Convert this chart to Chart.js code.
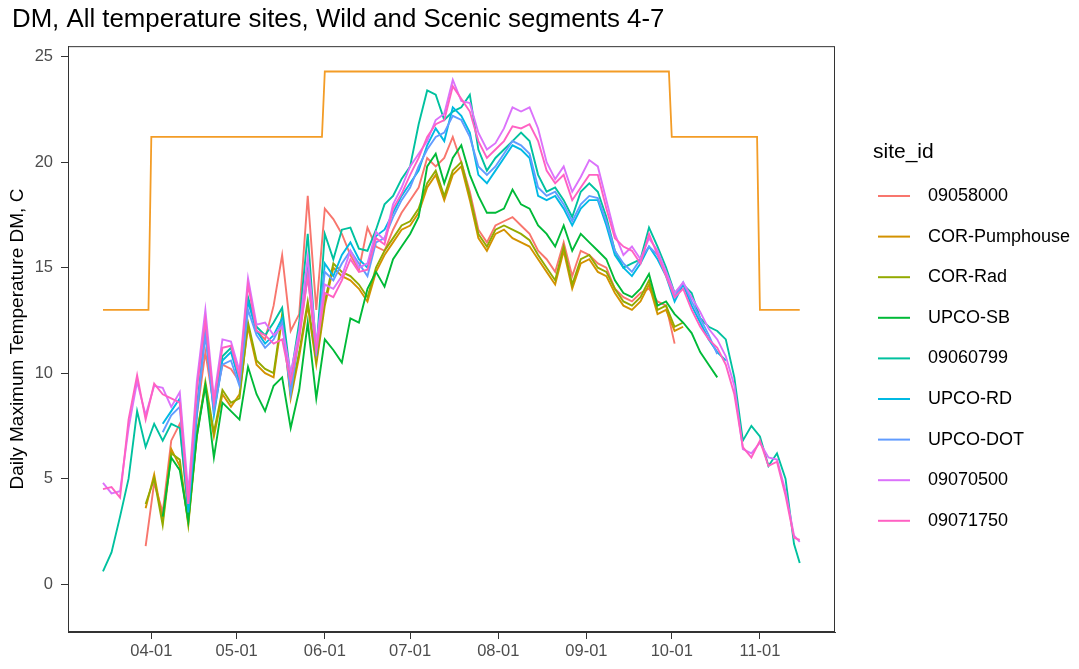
<!DOCTYPE html>
<html>
<head>
<meta charset="utf-8">
<script src="https://cdn.jsdelivr.net/npm/chart.js@4.4.1/dist/chart.umd.min.js"></script>
<style>
  html, body { margin: 0; padding: 0; background: #ffffff; }
  #wrap { width: 1079px; height: 669px; }
</style>
</head>
<body>
<div id="wrap"><canvas id="chart" width="1079" height="669"></canvas></div>
<script>
// days counted from 04-01 (day 0)
const days = [-17, -14, -11, -8, -5, -2, 1, 4, 7, 10,
  13, 16, 19, 22, 25, 28, 31, 34, 37, 40,
  43, 46, 49, 52, 55, 58, 61, 64, 67, 70,
  73, 76, 79, 82, 85, 88, 91, 94, 97, 100,
  103, 106, 109, 112, 115, 118, 121, 124, 127, 130,
  133, 136, 139, 142, 145, 148, 151, 154, 157, 160,
  163, 166, 169, 172, 175, 178, 181, 184, 187, 190,
  193, 196, 199, 202, 205, 208, 211, 214, 217, 220,
  223, 226, 228];

const s09058000 = [null, null, null, null, null, 1.8, 4.8, 3.4, 6.8, 7.6,
  3.2, 8.0, 11.0, 8.4, 10.4, 10.2, 9.6, 13.5, 12.0, 11.6,
  13.2, 15.6, 12.0, 12.8, 18.4, 13.0, 17.8, 17.3, 16.6, 15.6,
  14.9, 16.9, 16.0, 15.8, 16.8, 17.6, 18.2, 18.8, 20.2, 19.8,
  20.2, 21.2, 20.0, 18.6, 16.8, 16.2, 17.0, 17.2, 17.4, 17.0,
  16.6, 15.8, 15.4, 14.8, 16.2, 14.6, 15.8, 15.6, 15.2, 15.0,
  14.0, 13.6, 13.4, 13.8, 14.0, 13.4, 13.2, 11.4, null, null,
  null, null, null, null, null, null, null, null, null, null,
  null, null, null];

const sCorPumphouse = [null, null, null, null, null, 3.6, 5.2, 3.0, 6.4, 5.6,
  2.9, 7.2, 9.4, 7.0, 9.0, 8.4, 9.0, 12.2, 10.4, 10.0,
  9.8, 12.6, 8.8, 10.8, 13.2, 10.4, 13.2, 15.0, 14.6, 14.4,
  14.0, 13.4, 14.8, 15.6, 16.2, 16.8, 17.0, 17.6, 18.8, 19.4,
  18.2, 19.4, 19.8, 18.2, 16.4, 15.8, 16.6, 16.8, 16.4, 16.2,
  16.0, 15.4, 14.8, 14.2, 15.8, 14.0, 15.2, 15.4, 14.8, 14.6,
  13.8, 13.2, 13.0, 13.4, 14.2, 12.8, 13.0, 12.0, 12.2, null,
  null, null, null, null, null, null, null, null, null, null,
  null, null, null];

const sCorRad = [null, null, null, null, null, 3.8, 5.0, 2.8, 6.2, 5.9,
  2.8, 7.0, 9.6, 7.2, 9.2, 8.6, 8.8, 12.4, 10.6, 10.2,
  10.0, 12.8, 9.0, 11.0, 13.4, 10.6, 13.4, 15.2, 14.8, 14.6,
  14.2, 13.6, 15.0, 15.8, 16.4, 17.0, 17.2, 17.8, 19.0, 19.6,
  18.4, 19.6, 20.0, 18.4, 16.6, 16.0, 16.8, 17.0, 16.8, 16.6,
  16.3, 15.6, 15.0, 14.4, 16.0, 14.2, 15.4, 15.6, 15.0, 14.8,
  14.0, 13.4, 13.2, 13.6, 14.4, 13.0, 13.2, 12.2, 12.4, null,
  null, null, null, null, null, null, null, null, null, null,
  null, null, null];

const sUpcoSB = [null, null, null, null, null, null, null, 3.2, 6.0, 5.4,
  3.0, 7.0, 9.4, 6.0, 8.6, 8.2, 7.8, 10.3, 9.0, 8.2,
  9.4, 9.8, 7.4, 9.2, 12.4, 8.8, 11.6, 11.1, 10.5, 12.6,
  12.4, 14.0, 14.8, 14.1, 15.4, 16.0, 16.6, 17.4, 19.8, 20.4,
  19.0, 20.2, 20.8, 19.4, 18.4, 17.6, 17.6, 17.8, 18.7, 18.0,
  17.8, 17.0, 16.6, 16.0, 17.0, 15.8, 16.6, 16.2, 15.8, 15.4,
  14.4, 13.8, 13.6, 14.0, 14.7, 13.2, 13.4, 12.8, 12.4, 11.9,
  11.0, 10.4, 9.8, null, null, null, null, null, null, null,
  null, null, null];

const s09060799 = [0.6, 1.5, 3.2, 5.0, 8.2, 6.5, 7.6, 6.8, 7.6, 7.4,
  3.5, 8.4, 12.0, 8.4, 10.8, 11.2, 9.6, 13.6, 12.2, 11.8,
  12.4, 13.1, 9.8, 12.4, 16.6, 11.0, 16.6, 15.4, 16.8, 16.9,
  15.9, 15.8, 16.8, 18.0, 18.4, 19.2, 19.8, 21.8, 23.4, 23.2,
  22.0, 22.4, 22.6, 23.2, 20.6, 19.6, 20.2, 20.6, 21.0, 21.4,
  21.0, 19.4, 18.6, 18.8, 18.2, 17.4, 18.6, 19.0, 18.6, 17.4,
  15.8, 15.0, 15.2, 15.4, 16.9, 16.0, 15.0, 13.8, 14.2, 13.8,
  12.6, 12.2, 12.0, 11.6, 9.8, 6.8, 7.5, 7.0, 5.6, 6.2,
  5.0, 1.9, 1.0];

const sUpcoRD = [null, null, null, null, null, null, null, 7.6, 8.2, 8.8,
  3.4, 8.0, 12.2, 8.0, 10.6, 11.0, 9.6, 13.4, 12.0, 11.4,
  11.8, 12.6, 9.2, 12.0, 15.0, 10.8, 15.2, 14.6, 15.6, 16.2,
  15.4, 15.0, 16.5, 16.8, 17.6, 18.4, 19.0, 19.6, 20.8, 21.6,
  21.0, 22.6, 22.2, 21.4, 19.4, 19.0, 19.6, 20.2, 20.8, 20.6,
  20.2, 18.4, 18.2, 18.4, 17.8, 17.0, 17.8, 18.2, 18.2, 17.0,
  15.6, 15.0, 14.6, 15.2, 16.0, 15.4, 14.6, 13.4, 14.2, 13.2,
  12.4, 11.6, 11.0, 10.6, null, null, null, null, null, null,
  null, null, null];

const sUpcoDOT = [null, null, null, null, null, null, null, 7.2, 8.0, 8.4,
  3.8, 8.2, 11.8, 8.2, 10.4, 10.6, 9.4, 13.0, 11.8, 11.2,
  11.6, 12.4, 9.0, 11.8, 14.6, 11.2, 14.8, 14.4, 15.2, 15.8,
  15.2, 14.6, 16.2, 16.4, 17.4, 18.2, 18.8, 19.8, 20.6, 21.2,
  21.4, 22.2, 22.0, 21.2, 19.8, 19.4, 19.8, 20.4, 21.0, 20.8,
  20.4, 18.8, 18.4, 18.6, 18.0, 17.2, 18.0, 18.4, 18.3, 17.2,
  15.8, 15.2, 14.8, 15.4, 16.0, 15.6, 14.8, 13.6, 14.3, 13.4,
  12.6, 11.8, 10.9, null, null, null, null, null, null, null,
  null, null, null];

const s09070500 = [4.8, 4.3, 4.4, 7.4, 9.6, 8.0, 9.4, 9.3, 8.4, 9.1,
  4.3, 9.6, 13.0, 8.8, 11.6, 11.5, 10.1, 14.5, 12.3, 12.4,
  11.8, 12.2, 10.0, 12.0, 15.5, 11.4, 14.2, 14.0, 14.6, 15.8,
  15.0, 15.2, 16.7, 16.3, 18.0, 18.8, 19.8, 20.4, 21.0, 22.0,
  22.3, 23.9, 22.9, 22.8, 21.4, 20.6, 20.9, 21.6, 22.6, 22.4,
  22.6, 21.6, 20.0, 19.2, 19.8, 18.6, 19.3, 20.1, 19.8, 18.2,
  16.6, 15.6, 16.0, 15.4, 16.4, 15.8, 14.8, 13.8, 14.3, 13.6,
  12.9, 12.1, 11.6, 10.8, 9.4, 6.4, 6.2, 6.7, 6.0, 5.9,
  4.4, 2.3, 2.0];

const s09071750 = [4.5, 4.6, 4.1, 7.8, 9.9, 7.8, 9.5, 9.0, 8.8, 8.6,
  3.8, 9.2, 12.5, 8.6, 11.2, 11.3, 9.8, 14.2, 12.0, 11.8,
  11.4, 11.6, 9.6, 11.6, 14.6, 11.0, 13.8, 13.6, 14.4, 15.4,
  14.8, 14.9, 16.4, 16.1, 17.8, 18.5, 19.4, 20.2, 21.2, 21.8,
  22.0, 23.6, 23.0, 22.4, 21.0, 20.2, 20.6, 21.0, 21.7, 21.6,
  21.8, 21.0, 19.6, 19.0, 19.4, 18.2, 18.8, 19.4, 19.4, 17.8,
  16.4, 16.0, 15.8, 15.2, 16.6, 15.6, 14.6, 13.6, 14.0, 13.0,
  12.2, 11.6, 11.2, 10.4, 9.0, 6.5, 6.0, 6.8, 5.6, 5.8,
  4.2, 2.2, 2.1];

const siteIds = ['09058000', 'COR-Pumphouse', 'COR-Rad', 'UPCO-SB', '09060799', 'UPCO-RD', 'UPCO-DOT', '09070500', '09071750'];
const siteColors = ['#F8766D', '#D39200', '#93AA00', '#00BA38', '#00C19F', '#00B9E3', '#619CFF', '#DB72FB', '#FF61C3'];
const siteValues = [s09058000, sCorPumphouse, sCorRad, sUpcoSB, s09060799, sUpcoRD, sUpcoDOT, s09070500, s09071750];

// temperature standard (step line)
const limitDays = [-17, -1, 0, 60, 61, 182, 183, 213, 214, 228];
const limitValues = [13, 13, 21.2, 21.2, 24.3, 24.3, 21.2, 21.2, 13, 13];

const xTickDays = [0, 30, 61, 91, 122, 153, 183, 214];
const xTickLabels = ['04-01', '05-01', '06-01', '07-01', '08-01', '09-01', '10-01', '11-01'];
const yTicks = [0, 5, 10, 15, 20, 25];

const FONT = "'Liberation Sans', Arial, sans-serif";
const INK = '#333333';
const TICK_TEXT = '#4D4D4D';

const datasets = siteIds.map((id, i) => ({
    label: id,
    data: days.map((d, j) => ({ x: d, y: siteValues[i][j] })),
    borderColor: siteColors[i],
    backgroundColor: siteColors[i],
    borderWidth: 1.9,
    pointRadius: 0,
    tension: 0,
    order: siteIds.length - i,
}));

datasets.push({
    label: 'standard',
    data: limitDays.map((d, j) => ({ x: d, y: limitValues[j] })),
    borderColor: '#F39C26',
    borderWidth: 1.8,
    pointRadius: 0,
    tension: 0,
    order: 50,
});

// panel border on all sides + ggplot-like legend on the right
const panelAndLegend = {
    id: 'panelAndLegend',
    afterDraw(chart) {
        const { ctx, chartArea } = chart;
        ctx.save();
        ctx.strokeStyle = INK;
        ctx.lineWidth = 1;
        ctx.strokeRect(chartArea.left + 0.5, chartArea.top + 0.5,
            chartArea.right - chartArea.left - 1, chartArea.bottom - chartArea.top - 1);

        ctx.fillStyle = '#000';
        ctx.textBaseline = 'middle';
        ctx.textAlign = 'left';
        ctx.font = `21px ${FONT}`;
        ctx.fillText('site_id', 873, 152);

        ctx.font = `18px ${FONT}`;
        siteIds.forEach((id, i) => {
            const y = 196 + i * 40.6;
            ctx.strokeStyle = siteColors[i];
            ctx.lineWidth = 2;
            ctx.beginPath();
            ctx.moveTo(878, y);
            ctx.lineTo(910, y);
            ctx.stroke();
            ctx.fillStyle = '#000';
            ctx.fillText(id, 928, y);
        });
        ctx.restore();
    },
};

new Chart(document.getElementById('chart'), {
    type: 'line',
    data: { datasets },
    plugins: [panelAndLegend],
    options: {
        responsive: false,
        animation: false,
        devicePixelRatio: 1,
        layout: { padding: { left: 12, right: 244, top: 0, bottom: 0 } },
        plugins: {
            legend: { display: false },
            tooltip: { enabled: false },
            title: {
                display: true,
                text: 'DM, All temperature sites, Wild and Scenic segments 4-7',
                align: 'start',
                color: '#000',
                font: { family: FONT, size: 25.8, weight: 'normal' },
                padding: { top: 4, bottom: 11.2 },
            },
        },
        scales: {
            x: {
                type: 'linear',
                min: -29.3,
                max: 240.4,
                afterBuildTicks: (s) => { s.ticks = xTickDays.map((v) => ({ value: v })); },
                afterFit: (s) => { s.height = 37; },
                ticks: {
                    autoSkip: false,
                    maxRotation: 0,
                    padding: 3,
                    color: TICK_TEXT,
                    font: { family: FONT, size: 16.5 },
                    callback: (v, i) => xTickLabels[i],
                },
                grid: { drawOnChartArea: false, drawTicks: true, tickLength: 7, color: INK },
                border: { color: INK },
            },
            y: {
                type: 'linear',
                min: -2.27,
                max: 25.5,
                afterBuildTicks: (s) => { s.ticks = yTicks.map((v) => ({ value: v })); },
                afterFit: (s) => { s.width = 56; },
                ticks: {
                    padding: 8,
                    color: TICK_TEXT,
                    font: { family: FONT, size: 16.5 },
                },
                grid: { drawOnChartArea: false, drawTicks: true, tickLength: 7, color: INK },
                border: { color: INK },
                title: {
                    display: true,
                    text: 'Daily Maximum Temperature DM, C',
                    color: '#000',
                    font: { family: FONT, size: 19 },
                    padding: { top: -5.4, bottom: 0 },
                },
            },
        },
    },
});
</script>
</body>
</html>
